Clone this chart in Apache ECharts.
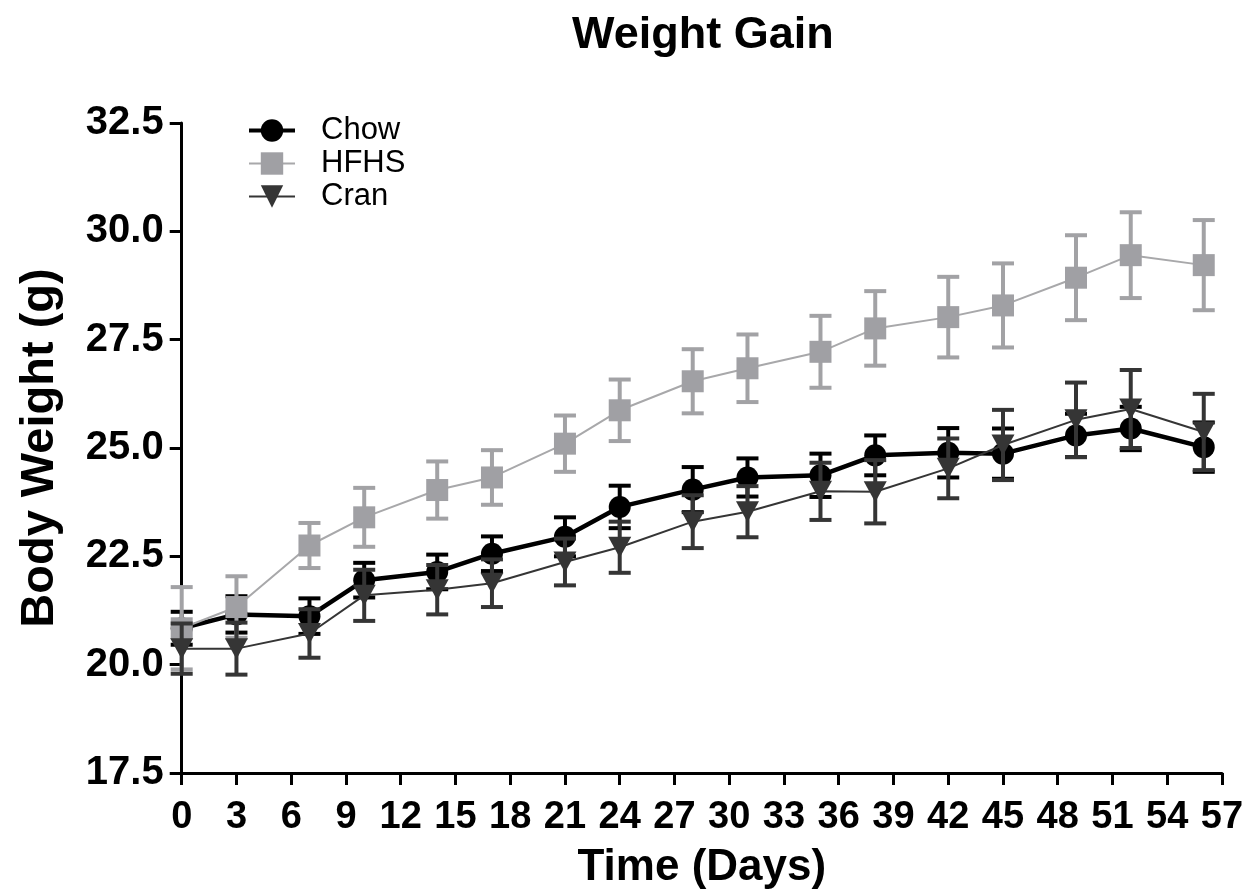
<!DOCTYPE html>
<html>
<head>
<meta charset="utf-8">
<script src="https://cdn.jsdelivr.net/npm/echarts@6/dist/echarts.min.js"></script>
<style>
html,body{margin:0;padding:0;background:#fff;}
#chart{width:1250px;height:896px;}
</style>
</head>
<body>
<div id="chart"></div>
<script>
const days = [0, 3, 7, 10, 14, 17, 21, 24, 28, 31, 35, 38, 42, 45, 49, 52, 56];
const chowMean = [20.84, 21.16, 21.12, 21.95, 22.14, 22.56, 22.95, 23.64, 24.04, 24.32, 24.37, 24.83, 24.89, 24.87, 25.29, 25.45, 25.02];
const chowSem  = [0.38, 0.42, 0.41, 0.40, 0.40, 0.40, 0.45, 0.49, 0.52, 0.44, 0.50, 0.46, 0.57, 0.58, 0.50, 0.50, 0.57];
const hfhsMean = [20.84, 21.33, 22.75, 23.40, 24.03, 24.32, 25.10, 25.87, 26.54, 26.84, 27.22, 27.76, 28.02, 28.29, 28.93, 29.45, 29.22];
const hfhsSem  = [0.95, 0.71, 0.52, 0.68, 0.66, 0.63, 0.65, 0.71, 0.74, 0.78, 0.83, 0.86, 0.93, 0.97, 0.98, 0.99, 1.04];
const cranMean = [20.37, 20.37, 20.72, 21.60, 21.73, 21.88, 22.37, 22.71, 23.30, 23.53, 24.00, 23.99, 24.53, 25.07, 25.65, 25.90, 25.37];
const cranSem  = [0.58, 0.60, 0.56, 0.59, 0.57, 0.55, 0.54, 0.59, 0.61, 0.59, 0.66, 0.73, 0.69, 0.81, 0.86, 0.90, 0.88];
const seriesNames = ['Chow', 'HFHS', 'Cran'];
const xTicks = {min: 0, max: 57, interval: 3};
const yTicks = {min: 17.5, max: 32.5, interval: 2.5};

const FONT = "'Liberation Sans', Arial, Helvetica, sans-serif";
const chart = echarts.init(document.getElementById('chart'), null, {renderer: 'canvas'});

function pts(mean) { return days.map((d, i) => [d, mean[i]]); }
function errs(mean, sem) { return days.map((d, i) => [d, mean[i] - sem[i], mean[i] + sem[i]]); }

function errSeries(name, data, color, z) {
  return {
    name: name, type: 'custom', z: z, silent: true,
    encode: {x: 0, y: [1, 2]},
    data: data,
    renderItem: function (params, api) {
      const x = api.value(0), lo = api.value(1), hi = api.value(2);
      const a = api.coord([x, lo]), b = api.coord([x, hi]);
      const hw = 11;
      const style = {stroke: color, lineWidth: 4, fill: null};
      return {type: 'group', children: [
        {type: 'line', shape: {x1: a[0], y1: a[1], x2: b[0], y2: b[1]}, style: style},
        {type: 'line', shape: {x1: a[0] - hw, y1: a[1], x2: a[0] + hw, y2: a[1]}, style: style},
        {type: 'line', shape: {x1: b[0] - hw, y1: b[1], x2: b[0] + hw, y2: b[1]}, style: style}
      ]};
    }
  };
}

const TRI = 'path://M0,0L20,0L10,18Z';

const option = {
  animation: false,
  backgroundColor: '#fff',
  title: {
    text: 'Weight Gain', left: 567, top: 8,
    textStyle: {fontFamily: FONT, fontSize: 45, fontWeight: 'bold', color: '#000'}
  },
  legend: {
    orient: 'vertical', left: 242, top: 110, padding: 5,
    itemWidth: 46, itemHeight: 28, itemGap: 2,
    data: [
      {name: seriesNames[0], lineStyle: {width: 4}},
      {name: seriesNames[1], lineStyle: {width: 2}},
      {name: seriesNames[2], lineStyle: {width: 2}}
    ],
    textStyle: {fontFamily: FONT, fontSize: 31, color: '#000', lineHeight: 31, padding: [0, 0, 0, 21]}
  },
  grid: {left: 181.7, right: 28, top: 123, bottom: 123, containLabel: false},
  xAxis: {
    type: 'value', min: xTicks.min, max: xTicks.max, interval: xTicks.interval,
    name: 'Time (Days)', nameLocation: 'middle', nameGap: 73,
    nameTextStyle: {fontFamily: FONT, fontSize: 44, fontWeight: 'bold', color: '#000'},
    axisLine: {show: true, onZero: false, lineStyle: {color: '#000', width: 3}},
    axisTick: {show: true, inside: false, length: 12, lineStyle: {color: '#000', width: 3}},
    axisLabel: {fontFamily: FONT, fontSize: 38, fontWeight: 'bold', color: '#000', margin: 26,
      showMinLabel: true, showMaxLabel: true},
    splitLine: {show: false}
  },
  yAxis: {
    type: 'value', min: yTicks.min, max: yTicks.max, interval: yTicks.interval,
    name: 'Body Weight (g)', nameLocation: 'middle', nameGap: 118,
    nameTextStyle: {fontFamily: FONT, fontSize: 47, fontWeight: 'bold', color: '#000'},
    axisLine: {show: true, onZero: false, lineStyle: {color: '#000', width: 3}},
    axisTick: {show: true, inside: false, length: 12, lineStyle: {color: '#000', width: 3}},
    axisLabel: {fontFamily: FONT, fontSize: 40, fontWeight: 'bold', color: '#000', margin: 18,
      formatter: v => v.toFixed(1)},
    splitLine: {show: false}
  },
  series: [
    errSeries('Chow SEM', errs(chowMean, chowSem), '#000000', 2),
    {
      name: seriesNames[0], type: 'line', z: 3, data: pts(chowMean),
      symbol: 'circle', symbolSize: 22,
      lineStyle: {color: '#000', width: 4.5},
      itemStyle: {color: '#000'}
    },
    errSeries('HFHS SEM', errs(hfhsMean, hfhsSem), '#a2a2a5', 4),
    {
      name: seriesNames[1], type: 'line', z: 5, data: pts(hfhsMean),
      symbol: 'rect', symbolSize: 22,
      lineStyle: {color: '#a8a8aa', width: 2},
      itemStyle: {color: '#a0a0a4'}
    },
    errSeries('Cran SEM', errs(cranMean, cranSem), '#353535', 6),
    {
      name: seriesNames[2], type: 'line', z: 7, data: pts(cranMean),
      symbol: TRI, symbolSize: [23, 21], symbolKeepAspect: false,
      lineStyle: {color: '#353535', width: 2},
      itemStyle: {color: '#353535'}
    }
  ]
};
chart.setOption(option);
</script>
</body>
</html>
